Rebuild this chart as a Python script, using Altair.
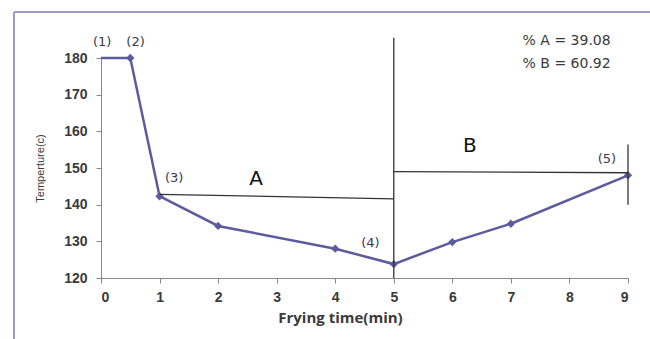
import altair as alt
import pandas as pd

# Main series
time = [0, 0.5, 1, 2, 4, 5, 6, 7, 9]
temp = [180, 180, 142.3, 134.2, 128, 123.8, 129.8, 134.8, 148]
marker_time = [0.5, 1, 2, 4, 5, 6, 7, 9]
marker_temp = [180, 142.3, 134.2, 128, 123.8, 129.8, 134.8, 148]

# Annotation segments (x, y, x2, y2)
seg_x = [1, 5, 5, 9]
seg_y = [142.8, 120, 149, 156.4]
seg_x2 = [5, 5, 9, 9]
seg_y2 = [141.6, 185.5, 148.7, 140]

# Point labels
lab_text = ["(1)", "(2)", "(3)", "(4)", "(5)"]
lab_x = [0.02, 0.59, 1.25, 4.6, 8.64]
lab_y = [184.5, 184.5, 147.3, 129.6, 152.5]

big_text = ["A", "B"]
big_x = [2.65, 6.3]
big_y = [147.1, 156.1]

pct_text = ["% A = 39.08", "% B = 60.92"]
pct_x = [7.2, 7.2]
pct_y = [184.6, 178.4]

x_ticks = [0, 1, 2, 3, 4, 5, 6, 7, 8, 9]
y_ticks = [120, 130, 140, 150, 160, 170, 180]

LINE = "#5b5b9e"
TXT = "#3a3a3a"

df = pd.DataFrame({"x": time, "y": temp})
dm = pd.DataFrame({"x": marker_time, "y": marker_temp})
ds = pd.DataFrame({"x": seg_x, "y": seg_y, "x2": seg_x2, "y2": seg_y2})
dl = pd.DataFrame({"x": lab_x, "y": lab_y, "s": lab_text})
db = pd.DataFrame({"x": big_x, "y": big_y, "s": big_text})
dp = pd.DataFrame({"x": pct_x, "y": pct_y, "s": pct_text})

xs = alt.Scale(domain=[0, 9], nice=False, zero=False)
ys = alt.Scale(domain=[120, 180], nice=False, zero=False)

xaxis = alt.Axis(values=x_ticks, format="d", title="Frying time(min)", grid=False,
                 labelFont="Liberation Sans", labelFontSize=14, labelColor=TXT,
                 labelFontWeight="bold", labelPadding=7, labelOverlap=False,
                 titleFont="Open Sans", titleFontSize=15, titleFontWeight="bold",
                 titleColor=TXT, titlePadding=6, titleX=239,
                 domainColor="#888888", tickColor="#888888", tickSize=5)
yaxis = alt.Axis(values=y_ticks, format="d", title="Temperture(c)", grid=False,
                 labelFont="Liberation Sans", labelFontSize=14, labelColor=TXT,
                 labelFontWeight="bold", labelPadding=9, labelOverlap=False,
                 titleFont="Liberation Sans", titleFontSize=11, titleFontWeight="normal",
                 titleColor=TXT, titlePadding=18,
                 domainColor="#888888", tickColor="#888888", tickSize=5)

X = alt.X("x:Q", scale=xs, axis=xaxis)
Y = alt.Y("y:Q", scale=ys, axis=yaxis)

line = alt.Chart(df).mark_line(color=LINE, strokeWidth=2.5, clip=False).encode(x=X, y=Y)
pts = alt.Chart(dm).mark_point(shape="diamond", filled=True, color=LINE, size=70, opacity=1).encode(x=X, y=Y)

segs = alt.Chart(ds).mark_rule(color="#333333", strokeWidth=1.3, clip=False).encode(
    x=X, y=Y, x2="x2:Q", y2="y2:Q")

labs = alt.Chart(dl).mark_text(font="DejaVu Sans", fontSize=13, color="#3a3a50").encode(x=X, y=Y, text="s:N")
bigs = alt.Chart(db).mark_text(font="DejaVu Sans", fontSize=20, color="#111111").encode(x=X, y=Y, text="s:N")
pcts = alt.Chart(dp).mark_text(font="DejaVu Sans", fontSize=14, color=TXT, align="left").encode(
    x=X, y=Y, text="s:N")

# outer frame (decoration)
frame_left = alt.Chart(pd.DataFrame({"a": [0]})).mark_rule(color="#9c9cc8", strokeWidth=2).encode(
    x=alt.value(-87), y=alt.value(-46), y2=alt.value(290))
frame_top = alt.Chart(pd.DataFrame({"a": [0]})).mark_rule(color="#9c9cc8", strokeWidth=2).encode(
    x=alt.value(-87), x2=alt.value(560), y=alt.value(-46))

chart = alt.layer(line, pts, segs, labs, bigs, pcts, frame_left, frame_top).properties(
    width=527, height=220,
    autosize=alt.AutoSizeParams(type="none"),
    padding={"left": 101, "top": 58, "right": 22, "bottom": 61},
).configure(background="white").configure_view(strokeWidth=0, stroke="transparent")

chart.save("out.html", embed_options={"renderer": "svg", "actions": False})
